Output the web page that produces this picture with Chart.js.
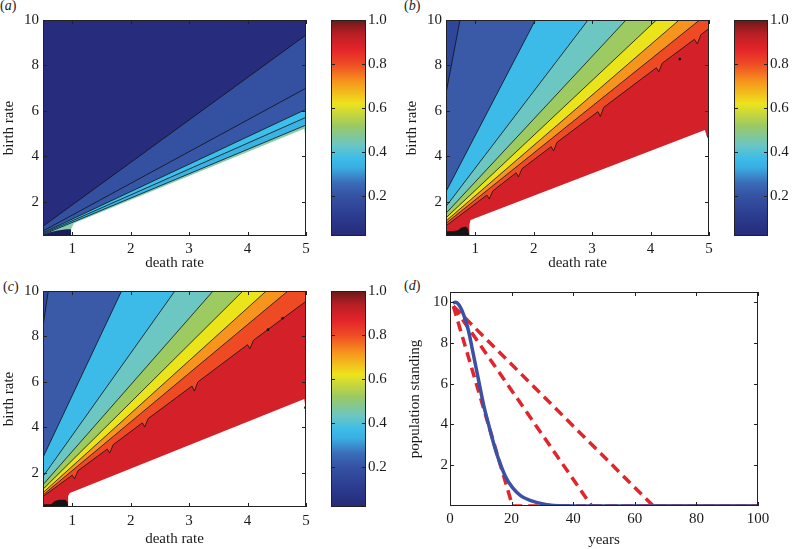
<!DOCTYPE html>
<html>
<head>
<meta charset="utf-8">
<script src="https://cdn.jsdelivr.net/npm/chart.js@4.4.1/dist/chart.umd.min.js"></script>
<style>
  body { margin: 0; width: 792px; height: 549px; position: relative; background: #fff; overflow: hidden; font-family: "Liberation Serif", serif; }
  canvas { position: absolute; }
  .lab { position: absolute; font-size: 14px; color: #222; }
</style>
</head>
<body>
<div class="lab" style="left:0px;top:-2px">(<i>a</i>)</div>
<div class="lab" style="left:404px;top:-2px">(<i>b</i>)</div>
<div class="lab" style="left:3px;top:279px">(<i>c</i>)</div>
<div class="lab" style="left:404px;top:278px">(<i>d</i>)</div>

<canvas id="ca" width="320" height="272" style="left:0px;top:0px"></canvas>
<canvas id="cba" width="72" height="272" style="left:322px;top:0px"></canvas>
<canvas id="cb" width="320" height="272" style="left:402px;top:0px"></canvas>
<canvas id="cbb" width="68" height="272" style="left:724px;top:0px"></canvas>
<canvas id="cc" width="320" height="274" style="left:0px;top:275px"></canvas>
<canvas id="cbc" width="72" height="274" style="left:322px;top:275px"></canvas>
<canvas id="cd" width="392" height="274" style="left:400px;top:275px"></canvas>

<script>
// axis ticks
const xTicks = [1, 2, 3, 4, 5];
const yTicks = [2, 4, 6, 8, 10];
const barTicks = [0.2, 0.4, 0.6, 0.8, 1.0];
const yearTicks = [0, 20, 40, 60, 80, 100];
const standTicks = [2, 4, 6, 8, 10];

// contour lines [death rate, birth rate], from left edge to top / right edge
const linesA = [
  [[0.5, 0.93], [5, 9.34]],
  [[0.5, 0.72], [5, 7.0]],
  [[0.5, 0.64], [5, 6.07]],
  [[0.5, 0.6], [5, 5.72]],
  [[0.5, 0.56], [5, 5.38]]
];
const nanA = [[0.98, 0.5], [0.98, 0.8], [1.03, 1.06], [4.97, 5.22], [4.99, 4.85], [5, 4.8], [5, 0.5]];
const blobA = [[0.5, 0.5], [0.5, 0.56], [0.62, 0.66], [0.75, 0.74], [0.9, 0.8], [0.98, 0.8], [0.98, 0.5]];

const linesB = [
  [[0.5, 6.78], [0.74, 10]],
  [[0.5, 2.45], [2.03, 10]],
  [[0.5, 1.8], [2.93, 10]],
  [[0.5, 1.5], [3.58, 10]],
  [[0.5, 1.3], [4.1, 10]],
  [[0.5, 1.16], [4.49, 10]],
  [[0.5, 1.06], [4.84, 10]],
  [[0.5, 0.95], [1.2, 2.3], [1.24, 2.13], [1.3, 2.48], [1.7, 3.28], [1.74, 3.1], [1.8, 3.46],
   [2.3, 4.43], [2.34, 4.24], [2.4, 4.62], [3.1, 5.97], [3.14, 5.76], [3.2, 6.16],
   [4.1, 7.9], [4.14, 7.72], [4.2, 8.1], [4.75, 9.15], [4.8, 8.95], [4.86, 9.35], [5, 9.63]]
];
const nanB = [[0.9, 0.5], [0.9, 1.0], [0.92, 1.2], [4.93, 5.16], [4.96, 4.9], [5, 4.85], [5, 0.5]];
const blobB = [[0.5, 0.5], [0.5, 0.7], [0.6, 0.72], [0.7, 0.74], [0.76, 0.86], [0.84, 0.92], [0.88, 0.8], [0.9, 0.5]];
const dotsB = [[4.5, 8.28], [4.99, 4.87]];

const linesC = [
  [[0.5, 8.45], [0.59, 10]],
  [[0.5, 2.68], [1.845, 10]],
  [[0.5, 1.84], [2.756, 10]],
  [[0.5, 1.48], [3.41, 10]],
  [[0.5, 1.28], [3.92, 10]],
  [[0.5, 1.13], [4.32, 10]],
  [[0.5, 1.03], [4.69, 10]],
  [[0.5, 0.96], [1.0, 1.9], [1.04, 1.74], [1.1, 2.1], [1.6, 3.05], [1.64, 2.87], [1.7, 3.24],
   [2.2, 4.2], [2.24, 4.02], [2.3, 4.39], [3.05, 5.82], [3.09, 5.6], [3.15, 6.0],
   [4.0, 7.64], [4.04, 7.46], [4.1, 7.83], [5, 9.55]]
];
const nanC = [[0.93, 0.5], [0.93, 0.98], [0.96, 1.12], [4.97, 5.25], [4.99, 4.9], [5, 4.85], [5, 0.5]];
const blobC = [[0.5, 0.5], [0.5, 0.62], [0.64, 0.62], [0.7, 0.76], [0.78, 0.82], [0.88, 0.82], [0.92, 0.72], [0.93, 0.5]];
const dotsC = [[4.35, 8.3], [4.6, 8.8], [4.99, 4.87]];

// panel d
const blueYears = [1, 1.8, 3, 4.5, 6, 7.5, 9.5, 11, 12.7, 14.5, 16, 18, 20.3, 23, 26, 31, 37, 45, 100];
const blueStand = [9.95, 10, 9.85, 9.35, 8.6, 7.5, 6.0, 4.9, 3.9, 2.9, 2.2, 1.45, 0.9, 0.5, 0.28, 0.08, 0.01, 0, 0];
const red1Years = [1.1, 20.3, 100];
const red1Stand = [9.8, 0, 0];
const red2Years = [1.1, 46, 100];
const red2Stand = [9.8, 0, 0];
const red3Years = [1.1, 66, 100];
const red3Stand = [9.8, 0, 0];

// colours
const colorsA = ['#272c7c', '#3451a1', '#3757a6', '#3cbfea', '#3ab3e4', '#86cdb0'];
const colorsBC = ['#2f479b', '#3a5aa8', '#3cbbe9', '#6cc6c2', '#9dcb62', '#ebe41b', '#f7941e', '#ee4b25', '#d42129'];
const jetStops = [[0.018, '#262a78'], [0.1, '#2b3a8e'], [0.2, '#3552a3'], [0.26, '#3a6cb8'], [0.33, '#3aaee2'],
  [0.37, '#3cbce9'], [0.43, '#6ac6c4'], [0.52, '#9cc963'], [0.62, '#ede31c'], [0.72, '#f7941d'],
  [0.8, '#ee4a25'], [0.87, '#e3232a'], [0.94, '#b41f24'], [1.0, '#6a1818']];

const X0 = 0.5, X1 = 5, Y0 = 0.5, Y1 = 10;
const serif = '"Liberation Serif", "Times New Roman", serif';
const tickFont = { family: serif, size: 15 };
const titleFont = { family: serif, size: 15 };
Chart.defaults.font.family = serif;
Chart.defaults.color = '#1a1a1a';

const pts = arr => arr.map(([x, y]) => ({ x, y }));

// region under one contour line, closed along the frame
function below(line) {
  const p = pts(line);
  if (line[line.length - 1][1] >= Y1) p.push({ x: X1, y: Y1 });
  p.push({ x: X1, y: Y0 }, { x: X0, y: Y0 });
  return p;
}

function contourSets(lines, colors, nan, blob, blobColor, dots) {
  const sets = [];
  sets.push({ data: pts([[X0, Y0], [X0, Y1], [X1, Y1], [X1, Y0]]), backgroundColor: colors[0], borderWidth: 0 });
  lines.forEach((l, i) => sets.push({ data: below(l), backgroundColor: colors[i + 1], borderColor: '#111', borderWidth: 0.8 }));
  sets.push({ data: pts(nan), backgroundColor: '#fff', borderWidth: 0 });
  sets.push({ data: pts(blob), backgroundColor: blobColor, borderWidth: 0 });
  const out = sets.map((s, i) => Object.assign({ fill: 'shape', pointRadius: 0, tension: 0, order: sets.length - i + 1 }, s));
  if (dots) out.push({ data: pts(dots), showLine: false, fill: false, pointRadius: 1.3, pointBorderWidth: 0, pointBackgroundColor: '#111', order: 0 });
  return out;
}

// box + inward tick marks like the original
const frame = {
  id: 'frame',
  afterDatasetsDraw(chart) {
    const { ctx, chartArea: a, scales } = chart;
    const L = 4;
    ctx.save();
    ctx.strokeStyle = '#222';
    ctx.lineWidth = 1;
    ctx.beginPath();
    if (scales.x && scales.x.options.display) {
      for (const t of scales.x.ticks) {
        const p = Math.round(scales.x.getPixelForValue(t.value)) + 0.5;
        ctx.moveTo(p, a.bottom); ctx.lineTo(p, a.bottom - L);
        ctx.moveTo(p, a.top); ctx.lineTo(p, a.top + L);
      }
    }
    for (const t of scales.y.ticks) {
      const p = Math.round(scales.y.getPixelForValue(t.value)) + 0.5;
      ctx.moveTo(a.left, p); ctx.lineTo(a.left + L, p);
      ctx.moveTo(a.right, p); ctx.lineTo(a.right - L, p);
    }
    ctx.stroke();
    ctx.strokeRect(Math.round(a.left) + 0.5, Math.round(a.top) + 0.5, Math.round(a.width) - 1, Math.round(a.height) - 1);
    ctx.restore();
  }
};

const jet = {
  id: 'jet',
  beforeDatasetsDraw(chart) {
    const { ctx, chartArea: a, scales: { y } } = chart;
    const g = ctx.createLinearGradient(0, a.bottom, 0, a.top);
    for (const [v, c] of jetStops) g.addColorStop(Math.min(1, Math.max(0, (v - y.min) / (y.max - y.min))), c);
    ctx.save();
    ctx.fillStyle = g;
    ctx.fillRect(a.left, a.top, a.width, a.height);
    ctx.restore();
  }
};

const common = {
  responsive: false, animation: false, devicePixelRatio: 1,
  plugins: { legend: { display: false }, tooltip: { enabled: false } }
};
const noGrid = { display: false, drawTicks: false };

function contourChart(id, datasets, lay) {
  new Chart(document.getElementById(id), {
    type: 'line',
    data: { datasets },
    options: Object.assign({}, common, {
      layout: { padding: { left: 0, top: lay.top, right: lay.right, bottom: 0 } },
      scales: {
        x: {
          type: 'linear', min: X0, max: X1,
          afterBuildTicks: s => { s.ticks = xTicks.map(v => ({ value: v })); },
          afterFit: s => { s.height = lay.xh; },
          grid: noGrid, border: { display: false },
          ticks: { font: tickFont, padding: lay.xPad, maxRotation: 0 },
          title: { display: true, text: 'death rate', font: titleFont, padding: { top: 0, bottom: lay.xTitle } }
        },
        y: {
          type: 'linear', min: Y0, max: Y1,
          afterBuildTicks: s => { s.ticks = yTicks.map(v => ({ value: v })); },
          afterFit: s => { s.width = lay.yw; },
          grid: noGrid, border: { display: false },
          ticks: { font: tickFont, padding: 4 },
          title: { display: true, text: 'birth rate', font: titleFont, padding: { top: lay.yTitle, bottom: 0 } }
        }
      }
    }),
    plugins: [frame]
  });
}

function colorbar(id, lay) {
  new Chart(document.getElementById(id), {
    type: 'line',
    data: { datasets: [] },
    options: Object.assign({}, common, {
      layout: { padding: { left: lay.left, top: lay.top, right: 0, bottom: lay.bottom } },
      scales: {
        x: { type: 'linear', display: false, min: 0, max: 1 },
        y: {
          type: 'linear', position: 'right', min: 0.018, max: 1.0,
          afterBuildTicks: s => { s.ticks = barTicks.map(v => ({ value: v })); },
          afterFit: s => { s.width = lay.w; },
          grid: noGrid, border: { display: false },
          ticks: { font: tickFont, padding: 2, callback: v => Number(v).toFixed(1) }
        }
      }
    }),
    plugins: [jet, frame]
  });
}

contourChart('ca', contourSets(linesA, colorsA, nanA, blobA, '#1b1e55', null),
  { top: 20, right: 14, xh: 36, yw: 43, xPad: 4, xTitle: 0, yTitle: 0.5 });
colorbar('cba', { left: 9, top: 20, bottom: 36, w: 28 });

contourChart('cb', contourSets(linesB, colorsBC, nanB, blobB, '#151515', dotsB),
  { top: 20, right: 13, xh: 36, yw: 44, xPad: 4, xTitle: 0, yTitle: 1.2 });
colorbar('cbb', { left: 10, top: 20, bottom: 36, w: 24 });

contourChart('cc', contourSets(linesC, colorsBC, nanC, blobC, '#151515', dotsC),
  { top: 16, right: 14, xh: 42, yw: 43, xPad: 5, xTitle: 1, yTitle: 0.5 });
colorbar('cbc', { left: 9, top: 16, bottom: 42, w: 28 });

const series = (xs, ys) => xs.map((x, i) => ({ x, y: ys[i] }));
const dashed = { borderColor: '#e2242b', borderWidth: 3.5, borderDash: [10, 6], pointRadius: 0, fill: false, tension: 0, order: 1 };
new Chart(document.getElementById('cd'), {
  type: 'line',
  data: {
    datasets: [
      { data: series(blueYears, blueStand), borderColor: '#3b51a3', borderWidth: 3.5, cubicInterpolationMode: 'monotone', pointRadius: 0, fill: false, order: 0 },
      Object.assign({ data: series(red1Years, red1Stand) }, dashed),
      Object.assign({ data: series(red2Years, red2Stand) }, dashed),
      Object.assign({ data: series(red3Years, red3Stand) }, dashed)
    ]
  },
  options: Object.assign({}, common, {
    layout: { padding: { left: 0, top: 17, right: 34, bottom: 0 } },
    scales: {
      x: {
        type: 'linear', min: 0, max: 100,
        afterBuildTicks: s => { s.ticks = yearTicks.map(v => ({ value: v })); },
        afterFit: s => { s.height = 43; },
        grid: noGrid, border: { display: false },
        ticks: { font: tickFont, padding: 4, maxRotation: 0 },
        title: { display: true, text: 'years', font: titleFont, padding: { top: 0, bottom: 0 } }
      },
      y: {
        type: 'linear', min: 0, max: 10.5,
        afterBuildTicks: s => { s.ticks = standTicks.map(v => ({ value: v })); },
        afterFit: s => { s.width = 50; },
        grid: noGrid, border: { display: false },
        ticks: { font: tickFont, padding: 2 },
        title: { display: true, text: 'population standing', font: titleFont, padding: { top: 6, bottom: 0 } }
      }
    }
  }),
  plugins: [frame]
});
</script>
</body>
</html>
